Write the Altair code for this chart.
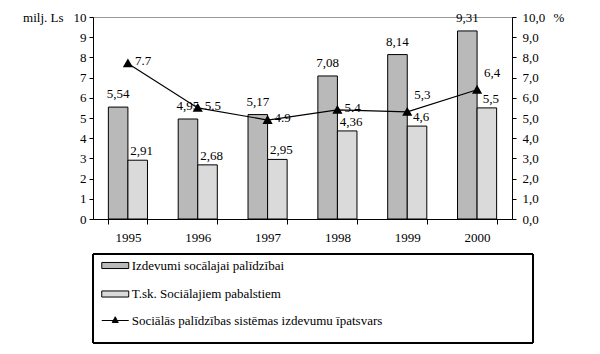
import altair as alt
import pandas as pd

# ---- data ----
years = ["1995", "1996", "1997", "1998", "1999", "2000"]
izdevumi = [5.54, 4.95, 5.17, 7.08, 8.14, 9.31]          # Izdevumi socālajai palīdzībai (milj. Ls)
pabalsti = [2.91, 2.68, 2.95, 4.36, 4.6, 5.5]            # T.sk. Sociālajiem pabalstiem (milj. Ls)
ipatsvars = [7.7, 5.5, 4.9, 5.4, 5.3, 6.4]               # īpatsvars, %
ipatsvars_labels = ["7.7", "5.5", "4.9", "5.4", "5,3", "6,4"]
y_ticks = [0, 1, 2, 3, 4, 5, 6, 7, 8, 9, 10]

s1 = "Izdevumi socālajai palīdzībai"
s2 = "T.sk. Sociālajiem pabalstiem"
s3 = "Sociālās palīdzības sistēmas izdevumu īpatsvars"

def fmt(v):
    return f"{v:g}".replace(".", ",")

bars_df = pd.DataFrame(
    [{"year": y, "series": s1, "value": v, "label": fmt(v)} for y, v in zip(years, izdevumi)]
    + [{"year": y, "series": s2, "value": v, "label": fmt(v)} for y, v in zip(years, pabalsti)]
)
line_df = pd.DataFrame({"year": years, "pct": ipatsvars, "label": ipatsvars_labels, "series": s3})

FONT = "Liberation Serif"
FS = 13

x_axis = alt.Axis(title=None, labelAngle=0, tickBand="extent", tickSize=5,
                  labelPadding=7, domainColor="black", tickColor="black",
                  labelFont=FONT, labelFontSize=FS, labelColor="black", grid=False)
x_scale = alt.Scale(paddingInner=0.44, paddingOuter=0.22)
x_enc = alt.X("year:N", sort=years, scale=x_scale, axis=x_axis)

xoff = alt.XOffset("series:N", sort=[s1, s2], scale=alt.Scale(paddingInner=0, paddingOuter=0))

left_axis = alt.Axis(title="milj. Ls", values=y_ticks, tickCount=11, grid=False,
                     labelOverlap=False, tickSize=4, labelPadding=3,
                     domainColor="black", tickColor="black",
                     labelFont=FONT, labelFontSize=FS, labelColor="black",
                     titleAngle=0, titleX=-30, titleY=0, titleAlign="right",
                     titleBaseline="middle", titleFont=FONT, titleFontSize=FS,
                     titleFontWeight="normal", titleColor="black")
y_left = alt.Y("value:Q", scale=alt.Scale(domain=[0, 10], nice=False), axis=left_axis)

bars = alt.Chart(bars_df).mark_bar(stroke="black", strokeWidth=1).encode(
    x=x_enc,
    xOffset=xoff,
    y=y_left,
    fill=alt.Fill("series:N", sort=[s1, s2],
                  scale=alt.Scale(domain=[s1, s2], range=["#b9b9b9", "#dadada"]),
                  legend=alt.Legend(title=None, orient="none", legendX=14.75, legendY=241,
                                    symbolType="M-2,-0.45L2,-0.45L2,0.45L-2,0.45Z",
                                    symbolSize=182, symbolStrokeColor="black",
                                    symbolStrokeWidth=1, labelFont=FONT, labelFontSize=FS,
                                    labelColor="black", labelOffset=9, rowPadding=13.5,
                                    padding=0, labelLimit=400)),
)

lbl1 = alt.Chart(bars_df).transform_filter(alt.datum.series == s1).mark_text(
    font=FONT, fontSize=FS, color="black", baseline="middle", dy=-13
).encode(x=x_enc, xOffset=xoff, y=y_left, text="label:N")

lbl2 = alt.Chart(bars_df).transform_filter(alt.datum.series == s2).mark_text(
    font=FONT, fontSize=FS, color="black", baseline="middle", dy=-9, dx=4
).encode(x=x_enc, xOffset=xoff, y=y_left, text="label:N")

box = alt.Chart(bars_df).mark_rect(fill=None, stroke="black", strokeWidth=1).encode(
    x=alt.value(0), x2=alt.value(440), y=alt.value(237), y2=alt.value(326)
)

left_layer = alt.layer(bars, lbl1, lbl2)

right_axis = alt.Axis(orient="right", title="%", values=y_ticks, tickCount=11, grid=False,
                      labelOverlap=False, tickSize=4, labelPadding=6,
                      domainColor="black", tickColor="black",
                      labelExpr="replace(format(datum.value, '.1f'), '.', ',')",
                      labelFont=FONT, labelFontSize=FS, labelColor="black",
                      titleAngle=0, titleX=41, titleY=0, titleAlign="left",
                      titleBaseline="middle", titleFont=FONT, titleFontSize=FS,
                      titleFontWeight="normal", titleColor="black")
y_right = alt.Y("pct:Q", scale=alt.Scale(domain=[0, 10], nice=False), axis=right_axis)

line = alt.Chart(line_df).mark_line(color="black", strokeWidth=1.2).encode(
    x=x_enc, y=y_right
)
pts = alt.Chart(line_df).mark_point(shape="triangle-up", filled=True, fill="black",
                                    size=45, opacity=1).encode(
    x=x_enc, y=y_right,
    stroke=alt.Stroke("series:N", scale=alt.Scale(domain=[s3], range=["black"]),
                      legend=alt.Legend(title=None, orient="none", legendX=14.75, legendY=296,
                                        symbolType="M-2,0L2,0M0,-0.55L0.45,0.3L-0.45,0.3Z",
                                        symbolSize=182, symbolFillColor="black",
                                        symbolStrokeColor="black", symbolStrokeWidth=1,
                                        labelFont=FONT, labelFontSize=FS, labelColor="black",
                                        labelOffset=9, padding=0, labelLimit=400)),
)
years_low = years[:4]
years_high = years[4:]
llbl_a = alt.Chart(line_df).transform_filter(
    alt.FieldOneOfPredicate(field="year", oneOf=years_low)
).mark_text(font=FONT, fontSize=FS, color="black", align="left", baseline="middle",
            dx=7, dy=-2).encode(x=x_enc, y=y_right, text="label:N")
llbl_b = alt.Chart(line_df).transform_filter(
    alt.FieldOneOfPredicate(field="year", oneOf=years_high)
).mark_text(font=FONT, fontSize=FS, color="black", align="left", baseline="middle",
            dx=7, dy=-17).encode(x=x_enc, y=y_right, text="label:N")

right_layer = alt.layer(line, pts, llbl_a, llbl_b)

chart = alt.layer(left_layer, right_layer, box).resolve_scale(
    y="independent"
).properties(
    width=419, height=202,
    autosize=alt.AutoSizeParams(type="none"),
    padding={"left": 93, "top": 17, "right": 88, "bottom": 135},
    background="white",
).configure_view(stroke="#999999", strokeWidth=1)

chart.save("out.html", embed_options={"renderer": "svg", "actions": False})
